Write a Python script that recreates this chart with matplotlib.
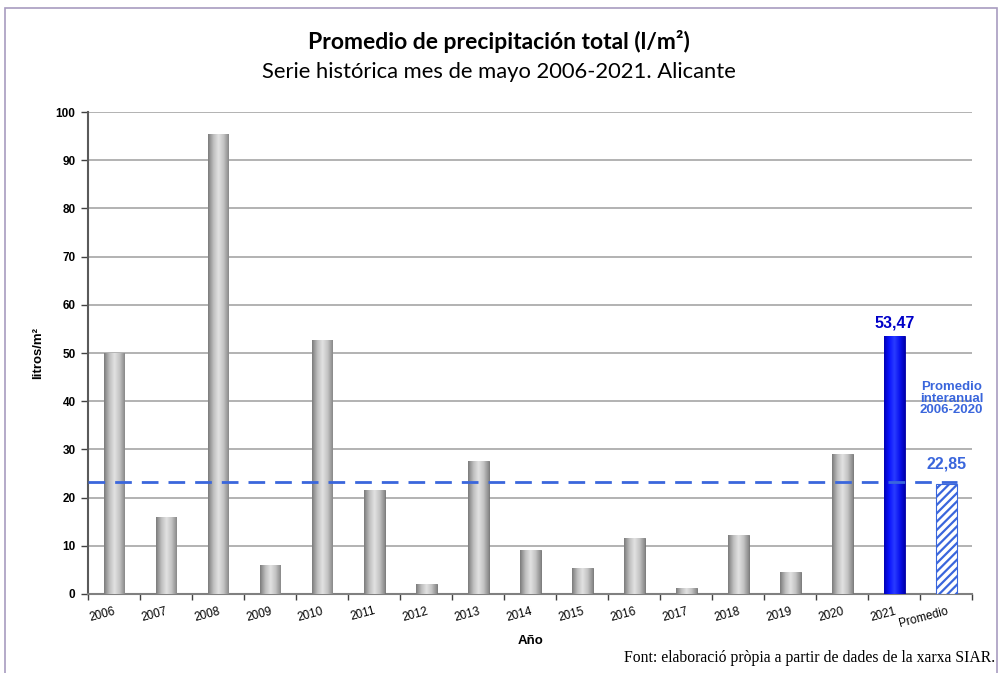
import numpy as np
import matplotlib.pyplot as plt
from matplotlib.colors import LinearSegmentedColormap
from matplotlib.patches import Rectangle

# Precipitación total de mayo (l/m2), Alicante
years = ['2006', '2007', '2008', '2009', '2010', '2011', '2012', '2013',
         '2014', '2015', '2016', '2017', '2018', '2019', '2020']
values = [50.0, 16.0, 95.5, 6.0, 52.7, 21.5, 2.1, 27.6,
          9.1, 5.3, 11.6, 1.2, 12.3, 4.6, 29.0]
value_2021 = 53.47
promedio = 22.85
labels = years + ['2021', 'Promedio']

BLUE_LINE = '#3a66dc'

fig = plt.figure(figsize=(9.98, 6.73), dpi=100)
ax = fig.add_axes([0.0882, 0.1174, 0.886, 0.716])

x = np.arange(len(labels))
w = 0.4

# historical bars with a cylinder-like shading
gray_cmap = LinearSegmentedColormap.from_list(
    'cyl', ['#7c7c7c', '#bdbdbd', '#e2e2e2', '#c4c4c4', '#8a8a8a'])
grad = np.linspace(0, 1, 64).reshape(1, -1)
bars = ax.bar(x[:len(years)], values, width=w, color='#b5b5b5',
              edgecolor='#6e6e6e', linewidth=0.6, zorder=3)
for p in bars:
    im = ax.imshow(grad, cmap=gray_cmap, aspect='auto', zorder=3,
                   extent=(p.get_x(), p.get_x() + p.get_width(), 0, p.get_height()))
    im.set_clip_path(p)

# 2021 bar
blue_cmap = LinearSegmentedColormap.from_list(
    'cylb', ['#0000b8', '#0a14ff', '#2a3cff', '#0a14f0', '#0000b0'])
b21 = ax.bar(x[len(years)], value_2021, width=w, color='#0000e6',
             edgecolor='#0000a0', linewidth=0.6, zorder=3)
for p in b21:
    im = ax.imshow(grad, cmap=blue_cmap, aspect='auto', zorder=3,
                   extent=(p.get_x(), p.get_x() + p.get_width(), 0, p.get_height()))
    im.set_clip_path(p)

# average bar, hatched
plt.rcParams['hatch.linewidth'] = 1.6
ax.bar(x[-1], promedio, width=w, color='white', edgecolor=BLUE_LINE,
       hatch='////', linewidth=0.8, zorder=3)

# average dashed line
ax.hlines(promedio + 0.4, -0.5, x[-1] + w / 2, colors=BLUE_LINE, linewidth=2.0,
          linestyles=(0, (6, 3.6)), zorder=4)

# annotations
ax.text(x[len(years)], value_2021 + 1.2, '53,47', ha='center', va='bottom',
        fontsize=11.5, fontweight='bold', color='#0000c8',
        family='Liberation Sans', zorder=5)
ax.text(x[-1], promedio + 2.6, '22,85', ha='center', va='bottom',
        fontsize=11.5, fontweight='bold', color=BLUE_LINE,
        family='Liberation Sans', zorder=5)
ax.text(x[-1] + 0.1, 40.5, 'Promedio\ninteranual\n2006-2020', ha='center',
        va='center', fontsize=9.5, fontweight='bold', color=BLUE_LINE,
        family='Liberation Sans', linespacing=0.95, zorder=5)

ax.set_xlim(-0.5, len(labels) - 0.5)
ax.set_ylim(0, 100)
ax.set_yticks(np.arange(0, 101, 10))
ax.yaxis.grid(True, color='#a6a6a6', linewidth=1.2)
ax.set_axisbelow(True)

for s in ['top', 'right']:
    ax.spines[s].set_visible(False)
ax.spines['left'].set_color('#5a5a5a')
ax.spines['left'].set_linewidth(1.5)
ax.spines['bottom'].set_color('#808080')
ax.spines['bottom'].set_linewidth(1.5)

ax.set_xticks(x)
ax.set_xticklabels(labels, rotation=15, ha='right', rotation_mode='anchor',
                   fontsize=8.5, family='Liberation Sans')
ax.set_xticks(np.arange(-0.5, len(labels), 1), minor=True)
ax.tick_params(axis='x', which='major', length=0, pad=8)
ax.tick_params(axis='x', which='minor', length=4, color='#404040', width=1)
ax.tick_params(axis='y', length=5, color='#404040', width=1, pad=4)
for t in ax.get_yticklabels():
    t.set_fontsize(8.5)
    t.set_fontweight('bold')
    t.set_family('Liberation Sans')

ax.set_xlabel('Año', fontsize=9.5, fontweight='bold', family='Liberation Sans',
              labelpad=4)
ax.set_ylabel('litros/m²', fontsize=9.5, fontweight='bold',
              family='Liberation Sans', labelpad=8)

# titles
fig.text(0.5, 0.9376, 'Promedio de precipitación total (l/m²)', ha='center',
         va='center', fontsize=16.5, fontweight='bold', family='Lato')
fig.text(0.5, 0.893, 'Serie histórica mes de mayo 2006-2021. Alicante',
         ha='center', va='center', fontsize=15.8, family='Lato')
fig.text(0.997, 1 - 658 / 673, 'Font: elaboració pròpia a partir de dades de la xarxa SIAR.',
         ha='right', va='center', fontsize=11.3, family='Liberation Serif')

# outer frame
fig.patches.append(Rectangle((5 / 998, -0.01), 992 / 998, 1 - 8 / 673 + 0.01,
                             transform=fig.transFigure, fill=False,
                             edgecolor='#a89cc0', linewidth=1.2))

fig.savefig('out.png', dpi=100)
